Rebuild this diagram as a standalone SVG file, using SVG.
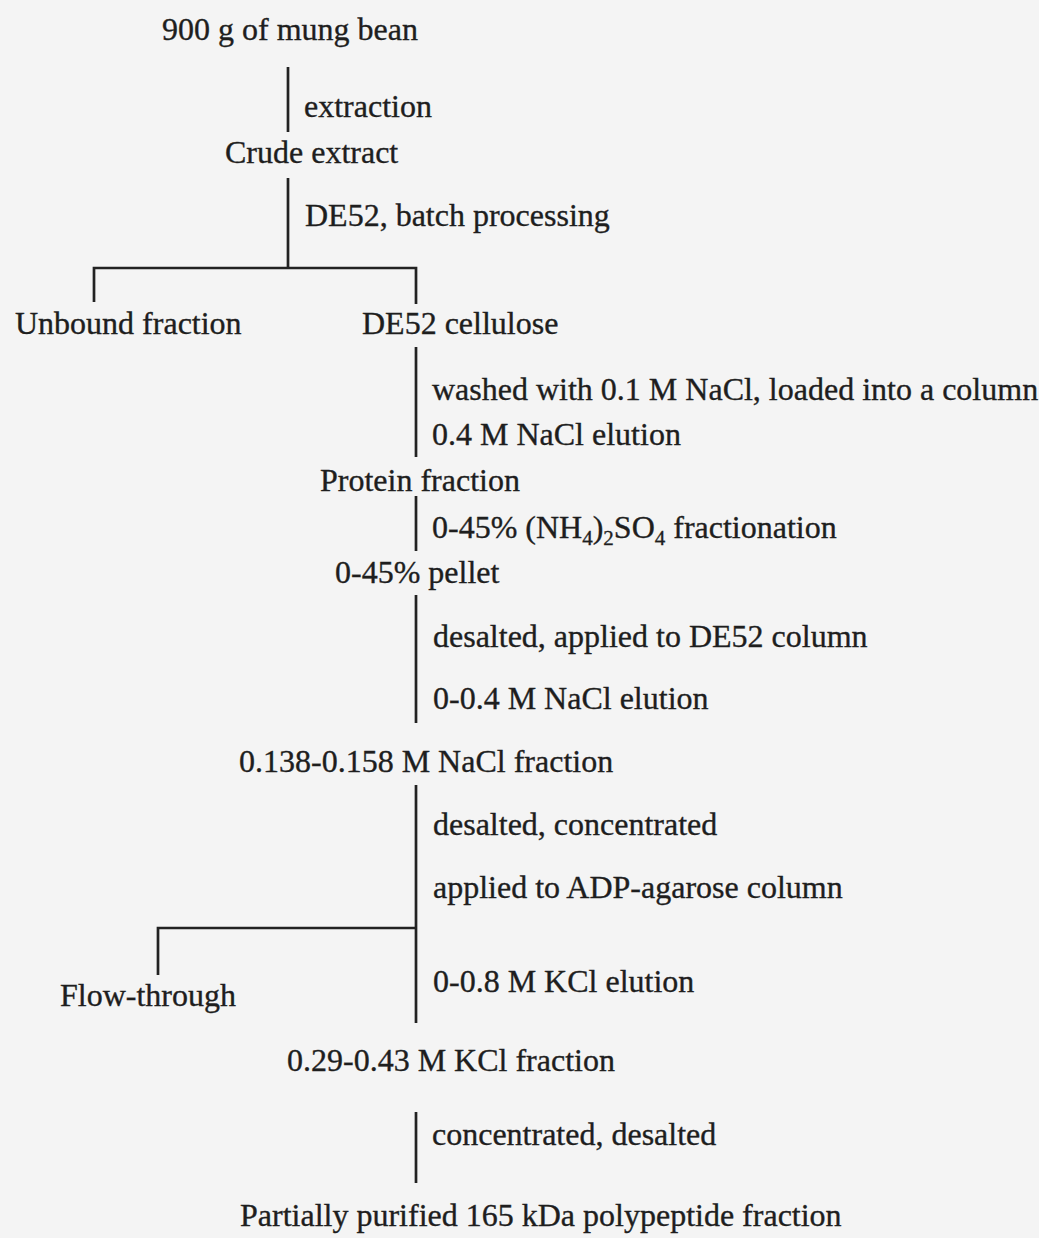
<svg xmlns="http://www.w3.org/2000/svg" width="1039" height="1238" viewBox="0 0 1039 1238">
<style>
text { font-family: "Liberation Serif", "Times New Roman", serif; font-size: 32px; fill: #1e1e1e; stroke: #1e1e1e; stroke-width: 0.35; }
.sub { font-size: 21px; }
.ln { stroke: #222222; stroke-width: 2.7; fill: none; stroke-linecap: butt; }
</style>
<rect x="0" y="0" width="1039" height="1238" fill="#f4f4f4"/>
<g id="connectors">
  <path class="ln" d="M288 67 V132"/>
  <path class="ln" d="M288 178 V268"/>
  <path class="ln" d="M94 302 V268 H416 V304"/>
  <path class="ln" d="M416 347 V457"/>
  <path class="ln" d="M416 496 V551"/>
  <path class="ln" d="M416 595 V723"/>
  <path class="ln" d="M416 785 V1023"/>
  <path class="ln" d="M158 975 V928 H416"/>
  <path class="ln" d="M416 1112 V1183"/>
</g>
<g id="n-mung"><text x="162" y="40">900 g of mung bean</text></g>
<g id="l-extraction"><text x="304" y="117">extraction</text></g>
<g id="n-crude"><text x="225" y="163">Crude extract</text></g>
<g id="l-batch"><text x="305" y="226">DE52, batch processing</text></g>
<g id="n-unbound"><text x="15" y="334">Unbound fraction</text></g>
<g id="n-cellulose"><text x="362" y="334">DE52 cellulose</text></g>
<g id="l-washed"><text x="432" y="400">washed with 0.1 M NaCl, loaded into a column</text></g>
<g id="l-elution1"><text x="432" y="445">0.4 M NaCl elution</text></g>
<g id="n-protein"><text x="320" y="491">Protein fraction</text></g>
<g id="l-ammonium"><text x="432" y="538">0-45% (NH<tspan class="sub" dy="7">4</tspan><tspan dy="-7">)</tspan><tspan class="sub" dy="7">2</tspan><tspan dy="-7">SO</tspan><tspan class="sub" dy="7">4</tspan><tspan dy="-7"> fractionation</tspan></text></g>
<g id="n-pellet"><text x="335" y="583">0-45% pellet</text></g>
<g id="l-desalted1"><text x="433" y="647">desalted, applied to DE52 column</text></g>
<g id="l-elution2"><text x="433" y="709">0-0.4 M NaCl elution</text></g>
<g id="n-nacl"><text x="239" y="772">0.138-0.158 M NaCl fraction</text></g>
<g id="l-desalted2"><text x="433" y="835">desalted, concentrated</text></g>
<g id="l-adp"><text x="433" y="898">applied to ADP-agarose column</text></g>
<g id="l-kcl"><text x="433" y="992">0-0.8 M KCl elution</text></g>
<g id="n-flow"><text x="60" y="1006">Flow-through</text></g>
<g id="n-kcl"><text x="287" y="1071">0.29-0.43 M KCl fraction</text></g>
<g id="l-conc"><text x="432" y="1145">concentrated, desalted</text></g>
<g id="n-final"><text x="240" y="1226">Partially purified 165 kDa polypeptide fraction</text></g>
</svg>
